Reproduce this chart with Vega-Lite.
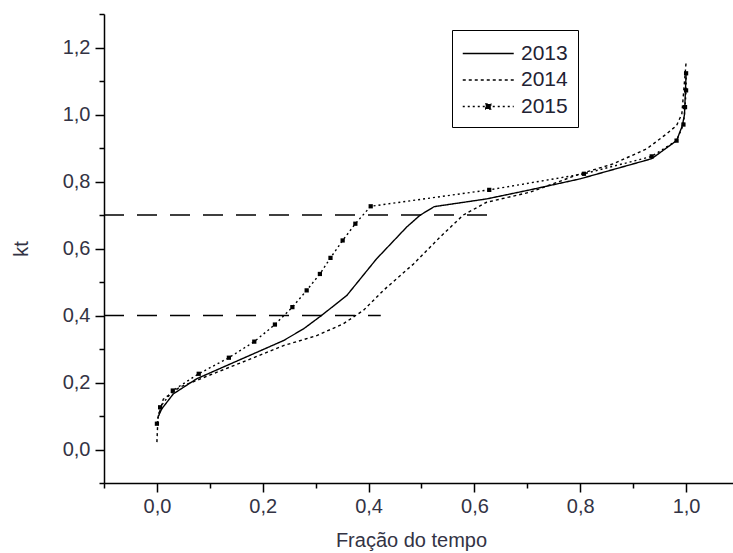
{
  "$schema": "https://vega.github.io/schema/vega-lite/v6.json",
  "width": 635,
  "height": 469,
  "autosize": {"type": "none"},
  "padding": {"left": 104, "top": 14, "right": 0, "bottom": 70},
  "background": "white",
  "config": {
    "view": {"stroke": null},
    "font": "Liberation Sans",
    "axis": {
      "grid": false,
      "domainColor": "black",
      "tickColor": "black",
      "labelColor": "#333344",
      "titleColor": "#333344",
      "labelFont": "Liberation Sans",
      "titleFont": "Liberation Sans",
      "titleFontWeight": "normal",
      "domainWidth": 1.5,
      "tickWidth": 1.5
    }
  },
  "datasets": {
    "curves": [
      {"series": "2013", "x": 0.003, "y": 0.10},
      {"series": "2013", "x": 0.009, "y": 0.121},
      {"series": "2013", "x": 0.031, "y": 0.166},
      {"series": "2013", "x": 0.075, "y": 0.211},
      {"series": "2013", "x": 0.154, "y": 0.266},
      {"series": "2013", "x": 0.239, "y": 0.325},
      {"series": "2013", "x": 0.277, "y": 0.36},
      {"series": "2013", "x": 0.311, "y": 0.40},
      {"series": "2013", "x": 0.359, "y": 0.46},
      {"series": "2013", "x": 0.415, "y": 0.569},
      {"series": "2013", "x": 0.472, "y": 0.664},
      {"series": "2013", "x": 0.497, "y": 0.699},
      {"series": "2013", "x": 0.524, "y": 0.725},
      {"series": "2013", "x": 0.623, "y": 0.748},
      {"series": "2013", "x": 0.705, "y": 0.775},
      {"series": "2013", "x": 0.80, "y": 0.808},
      {"series": "2013", "x": 0.935, "y": 0.868},
      {"series": "2013", "x": 0.982, "y": 0.922},
      {"series": "2013", "x": 0.993, "y": 0.967},
      {"series": "2013", "x": 0.997, "y": 1.0},
      {"series": "2013", "x": 1.0, "y": 1.12},
      {"series": "2014", "x": 0.0, "y": 0.022},
      {"series": "2014", "x": 0.002, "y": 0.096},
      {"series": "2014", "x": 0.012, "y": 0.15},
      {"series": "2014", "x": 0.043, "y": 0.186},
      {"series": "2014", "x": 0.106, "y": 0.226},
      {"series": "2014", "x": 0.17, "y": 0.266},
      {"series": "2014", "x": 0.239, "y": 0.31},
      {"series": "2014", "x": 0.302, "y": 0.34},
      {"series": "2014", "x": 0.352, "y": 0.375},
      {"series": "2014", "x": 0.39, "y": 0.415},
      {"series": "2014", "x": 0.428, "y": 0.475},
      {"series": "2014", "x": 0.485, "y": 0.554},
      {"series": "2014", "x": 0.535, "y": 0.634},
      {"series": "2014", "x": 0.579, "y": 0.70},
      {"series": "2014", "x": 0.623, "y": 0.738},
      {"series": "2014", "x": 0.705, "y": 0.768},
      {"series": "2014", "x": 0.80, "y": 0.823},
      {"series": "2014", "x": 0.863, "y": 0.853},
      {"series": "2014", "x": 0.926, "y": 0.898},
      {"series": "2014", "x": 0.963, "y": 0.942},
      {"series": "2014", "x": 0.982, "y": 0.967},
      {"series": "2014", "x": 0.992, "y": 1.002},
      {"series": "2014", "x": 1.0, "y": 1.156},
      {"series": "2015", "x": 0.0, "y": 0.077},
      {"series": "2015", "x": 0.006, "y": 0.126},
      {"series": "2015", "x": 0.030, "y": 0.176},
      {"series": "2015", "x": 0.079, "y": 0.226},
      {"series": "2015", "x": 0.136, "y": 0.274},
      {"series": "2015", "x": 0.184, "y": 0.322},
      {"series": "2015", "x": 0.223, "y": 0.373},
      {"series": "2015", "x": 0.256, "y": 0.425},
      {"series": "2015", "x": 0.283, "y": 0.475},
      {"series": "2015", "x": 0.308, "y": 0.524},
      {"series": "2015", "x": 0.328, "y": 0.572},
      {"series": "2015", "x": 0.351, "y": 0.624},
      {"series": "2015", "x": 0.375, "y": 0.674},
      {"series": "2015", "x": 0.404, "y": 0.726},
      {"series": "2015", "x": 0.628, "y": 0.775},
      {"series": "2015", "x": 0.807, "y": 0.823},
      {"series": "2015", "x": 0.935, "y": 0.875},
      {"series": "2015", "x": 0.982, "y": 0.922},
      {"series": "2015", "x": 0.995, "y": 0.970},
      {"series": "2015", "x": 0.998, "y": 1.022},
      {"series": "2015", "x": 1.0, "y": 1.072},
      {"series": "2015", "x": 1.0, "y": 1.123}
    ],
    "refs": [
      {"y": 0.7, "x1": -0.1, "x2": 0.624},
      {"y": 0.4, "x1": -0.1, "x2": 0.423}
    ]
  },
  "layer": [
    {
      "data": {"name": "curves"},
      "mark": {"type": "line", "strokeWidth": 1.4, "color": "black"},
      "encoding": {
        "x": {
          "field": "x", "type": "quantitative",
          "scale": {"domain": [-0.1, 1.1], "nice": false, "zero": false},
          "axis": {
            "values": [0, 0.2, 0.4, 0.6, 0.8, 1.0],
            "format": ".1f",
            "labelExpr": "replace(datum.label, '.', ',')",
            "title": "Fração do tempo",
            "titleX": 307,
            "tickSize": 9,
            "labelFontSize": 20,
            "titleFontSize": 20,
            "labelPadding": 4,
            "titlePadding": 14
          }
        },
        "y": {
          "field": "y", "type": "quantitative",
          "scale": {"domain": [-0.1, 1.3], "nice": false, "zero": false},
          "axis": {
            "orient": "left",
            "values": [0, 0.2, 0.4, 0.6, 0.8, 1.0, 1.2],
            "format": ".1f",
            "labelExpr": "replace(datum.label, '.', ',')",
            "title": "kt",
            "tickSize": 9,
            "labelFontSize": 20,
            "titleFontSize": 20,
            "labelPadding": 5,
            "titlePadding": 31
          }
        },
        "order": {"field": "y", "type": "quantitative"},
        "strokeDash": {
          "field": "series", "type": "nominal",
          "scale": {"domain": ["2013", "2014", "2015"], "range": [[1, 0], [3, 3], [2, 3]]},
          "legend": {
            "title": null,
            "orient": "none",
            "legendX": 348,
            "legendY": 16,
            "strokeColor": "black",
            "padding": 10,
            "symbolType": "M-1,0H3",
            "symbolSize": 650,
            "symbolStrokeWidth": 1.3,
            "symbolStrokeColor": "black",
            "labelFontSize": 21,
            "labelColor": "#222233",
            "labelOffset": 32,
            "rowPadding": 2.5,
            "encode": {
              "symbols": {
                "update": {
                  "shape": {"signal": "datum.value == '2015' ? 'M-1,0H3M0.8,-0.2H1.2V0.2H0.8Z' : 'M-1,0H3'"},
                  "fill": {"value": "black"},
                  "stroke": {"value": "black"},
                  "strokeWidth": {"value": 1.3},
                  "opacity": {"value": 1}
                }
              }
            }
          }
        }
      }
    },
    {
      "data": {"name": "curves"},
      "transform": [{"filter": "datum.series == '2015'"}],
      "mark": {"type": "point", "shape": "square", "filled": true, "size": 18, "color": "black", "opacity": 1},
      "encoding": {
        "x": {"field": "x", "type": "quantitative", "scale": {"domain": [-0.1, 1.1], "nice": false, "zero": false}, "axis": null},
        "y": {"field": "y", "type": "quantitative", "scale": {"domain": [-0.1, 1.3], "nice": false, "zero": false}, "axis": null}
      }
    },
    {
      "data": {"name": "refs"},
      "mark": {"type": "rule", "strokeDash": [20, 13], "strokeWidth": 1.5, "color": "black"},
      "encoding": {
        "x": {
          "field": "x1", "type": "quantitative",
          "scale": {"domain": [-0.1, 1.1], "nice": false, "zero": false},
          "axis": {"orient": "bottom", "values": [-0.1, 0.1, 0.3, 0.5, 0.7, 0.9, 1.1], "labels": false, "title": null, "tickSize": 5, "domain": false}
        },
        "x2": {"field": "x2"},
        "y": {
          "field": "y", "type": "quantitative",
          "scale": {"domain": [-0.1, 1.3], "nice": false, "zero": false},
          "axis": {"orient": "left", "values": [-0.1, 0.1, 0.3, 0.5, 0.7, 0.9, 1.1, 1.3], "labels": false, "title": null, "tickSize": 5, "domain": false}
        }
      }
    }
  ],
  "resolve": {"axis": {"x": "independent", "y": "independent"}}
}
